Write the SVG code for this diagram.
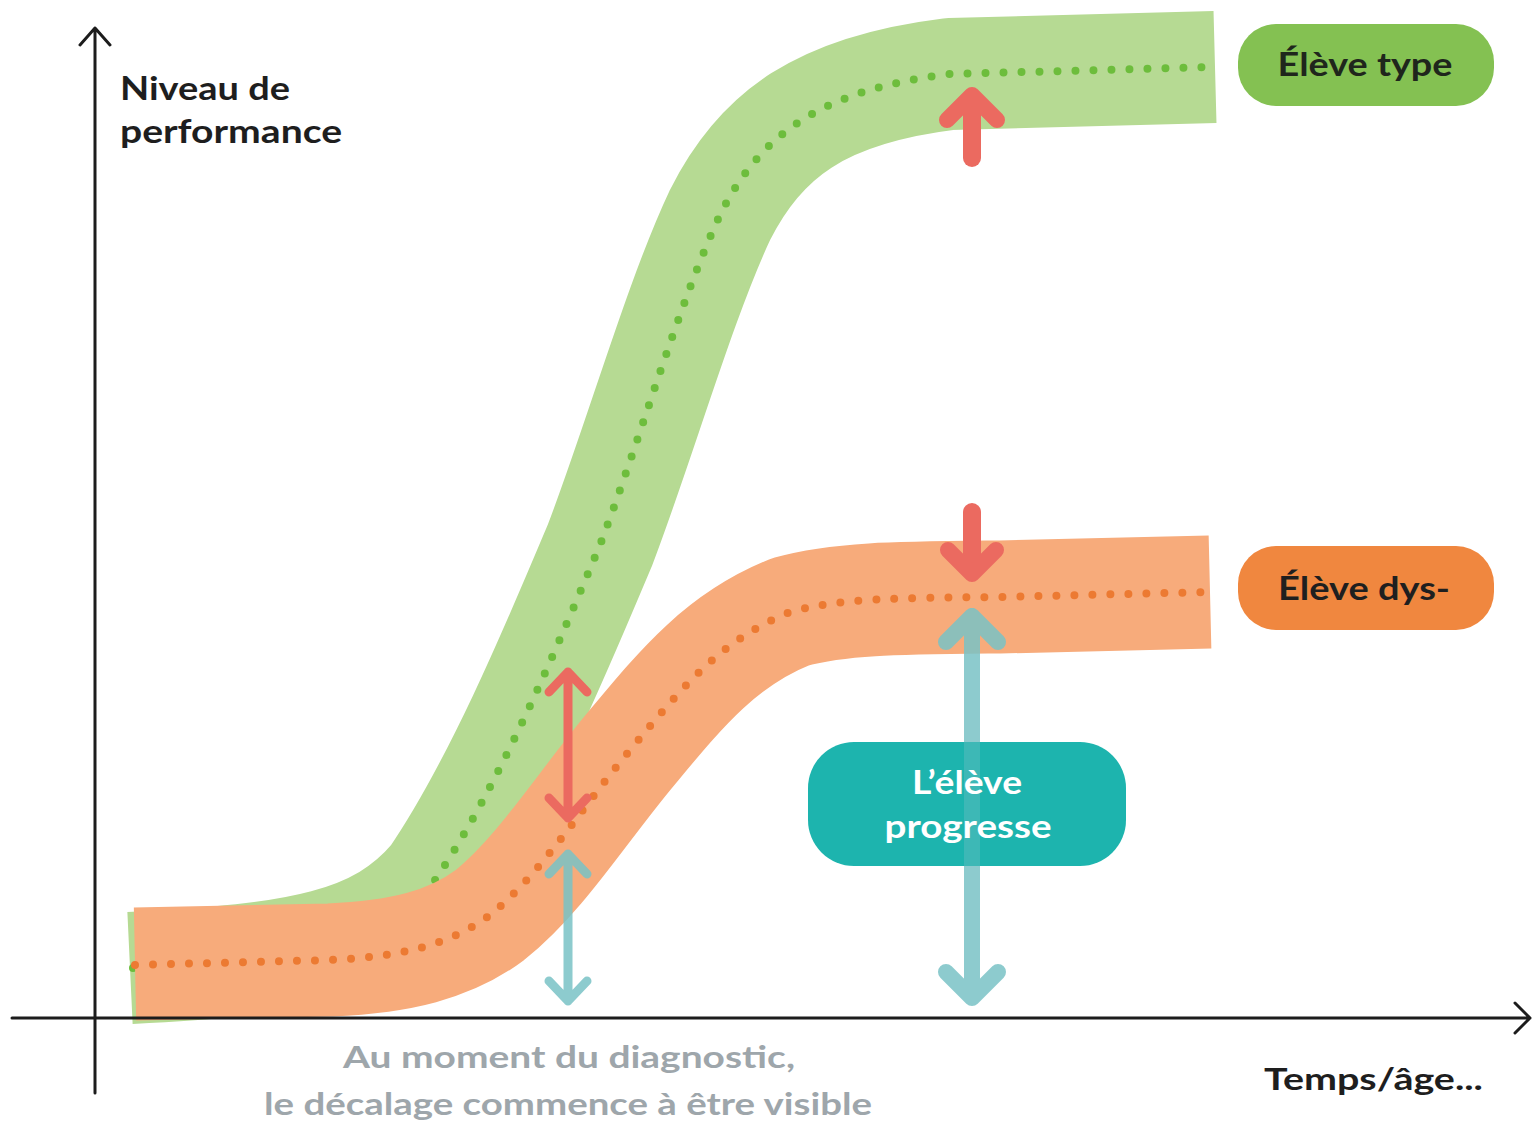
<svg xmlns="http://www.w3.org/2000/svg" width="1537" height="1126" viewBox="0 0 1537 1126">
<style>
.t{font-family:"Lato","Open Sans","DejaVu Sans",sans-serif;font-weight:700}
.ax{stroke:#1c1c1c;stroke-width:3;fill:none;stroke-linecap:round;stroke-linejoin:round}
.band{fill:none;stroke-linecap:butt;stroke-linejoin:round}
.dots{fill:none;stroke-linecap:round;stroke-dasharray:0 18}
.red{stroke:#eb6a60;fill:none;stroke-linecap:round;stroke-linejoin:round}
.teal{stroke:#79c2c6;fill:none;stroke-linecap:round;stroke-linejoin:round;opacity:0.85}
</style>
<rect width="1537" height="1126" fill="#ffffff"/>
<g id="curves">
<path class="band" stroke="#b6da93" stroke-width="112" d="M130,968 C300,960 380,945 435,880 C500,785 560,640 600,545 C640,440 680,300 720,215 C760,135 820,90 950,74 L1215,67"/>
<path class="dots" stroke="#6dbd3c" stroke-width="8" d="M133,968 C300,960 380,945 435,880 C500,785 560,640 600,545 C640,440 680,300 720,215 C760,135 820,90 950,74 L1215,67"/>
<path class="band" stroke="#f7ab7b" stroke-width="113" d="M135,964 L330,960 C400,957 450,945 490,915 C540,875 580,810 630,750 C680,690 720,640 790,612 C840,598 900,598 1000,597 L1210,592"/>
<path class="dots" stroke="#ec7a32" stroke-width="8" d="M135,965 L330,960 C400,957 450,945 490,915 C540,875 580,810 630,750 C680,690 720,640 790,612 C840,598 900,598 1000,597 L1210,592"/>
</g>
<g id="axes">
<path class="ax" d="M95,1093 L95,28 M80,45 L95,28 L110,45"/>
<path class="ax" d="M12,1018 L1530,1018 M1515,1003 L1530,1018 L1515,1033"/>
</g>
<g id="connectors">
<path class="red" stroke-width="18" stroke-linecap="butt" d="M972,158 L972,100"/>
<path class="red" stroke-width="16" d="M947,120 L972,95 L997,120"/>
<path class="red" stroke-width="18" stroke-linecap="butt" d="M972,512 L972,570"/>
<path class="red" stroke-width="16" d="M948,550 L972,574 L996,550"/>
<path class="red" stroke-width="9" d="M568,672 L568,818 M549,692 L568,672 L587,692 M549,798 L568,818 L587,798"/>
<path class="teal" stroke-width="9" d="M568,854 L568,1001 M549,874 L568,854 L587,874 M549,981 L568,1001 L587,981"/>
<path class="teal" stroke-width="16" d="M972,616 L972,998 M946,642 L972,616 L998,642 M946,972 L972,998 L998,972"/>
</g>
<g id="label-y">
<text class="t" x="120" y="100" font-size="32" fill="#1e1e1e" textLength="170" lengthAdjust="spacingAndGlyphs">Niveau de</text>
<text class="t" x="120" y="143" font-size="32" fill="#1e1e1e" textLength="222" lengthAdjust="spacingAndGlyphs">performance</text>
</g>
<g id="label-x">
<text class="t" x="1264" y="1090" font-size="31" fill="#1e1e1e" textLength="219" lengthAdjust="spacingAndGlyphs">Temps/âge...</text>
</g>
<g id="node-eleve-type">
<rect x="1238" y="24" width="256" height="82" rx="38" fill="#84c152"/>
<text class="t" x="1365" y="76" font-size="32" fill="#1f261c" text-anchor="middle" textLength="175" lengthAdjust="spacingAndGlyphs">Élève type</text>
</g>
<g id="node-eleve-dys">
<rect x="1238" y="546" width="256" height="84" rx="38" fill="#f0873f"/>
<text class="t" x="1364" y="600" font-size="32" fill="#1f1f1f" text-anchor="middle" textLength="172" lengthAdjust="spacingAndGlyphs">Élève dys-</text>
</g>
<g id="node-progresse">
<rect x="808" y="742" width="318" height="124" rx="46" fill="#1db4ae"/>
<path d="M972,742 L972,866" stroke="#79c2c6" stroke-width="16" opacity="0.35"/>
<text class="t" x="967" y="794" font-size="32" fill="#ffffff" text-anchor="middle" textLength="110" lengthAdjust="spacingAndGlyphs">L’élève</text>
<text class="t" x="968" y="838" font-size="32" fill="#ffffff" text-anchor="middle" textLength="167" lengthAdjust="spacingAndGlyphs">progresse</text>
</g>
<g id="note-diagnostic">
<text class="t" x="569" y="1068" font-size="31" fill="#9ea6ab" text-anchor="middle" textLength="452" lengthAdjust="spacingAndGlyphs">Au moment du diagnostic,</text>
<text class="t" x="568" y="1115" font-size="31" fill="#9ea6ab" text-anchor="middle" textLength="608" lengthAdjust="spacingAndGlyphs">le décalage commence à être visible</text>
</g>
</svg>
